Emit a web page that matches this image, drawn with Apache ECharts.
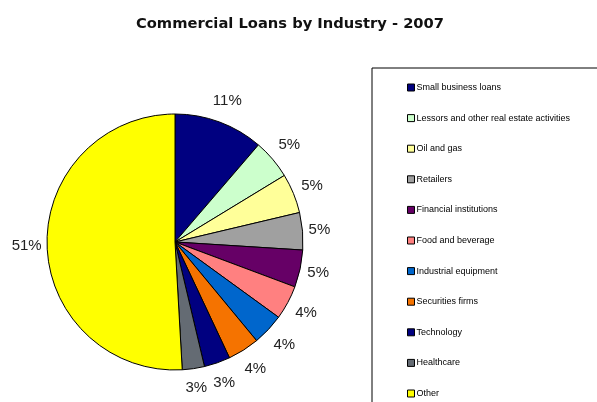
<!DOCTYPE html>
<html>
<head>
<meta charset="utf-8">
<script src="https://cdn.jsdelivr.net/npm/echarts@6/dist/echarts.min.js"></script>
<style>
  html, body { margin: 0; padding: 0; background: #fff; }
  #chart { width: 597px; height: 402px; }
</style>
</head>
<body>
<div id="chart"></div>
<script>
// Industry categories, drawn clockwise from 12 o'clock
const industries = [
  'Small business loans',
  'Lessors and other real estate activities',
  'Oil and gas',
  'Retailers',
  'Financial institutions',
  'Food and beverage',
  'Industrial equipment',
  'Securities firms',
  'Technology',
  'Healthcare',
  'Other'
];

// Share of commercial loans (%)
const loanShares = [11.3, 5.0, 5.0, 4.7, 4.7, 4.3, 4.0, 4.0, 3.3, 2.8, 50.9];

const sliceColors = [
  '#000080', '#CCFFCC', '#FFFF99', '#A0A0A0', '#660066', '#FF8080',
  '#0066CC', '#F57300', '#000080', '#646B73', '#FFFF00'
];

const chart = echarts.init(document.getElementById('chart'), null, { renderer: 'canvas' });

const pieData = industries.map((name, i) => ({
  name: name,
  value: loanShares[i],
  itemStyle: { color: sliceColors[i] }
}));

// Place each percentage label just outside its slice, centred on the
// slice's bisector; the clearance grows toward the top and bottom.
function placeLabel(params) {
  const series = chart.getModel().getSeriesByIndex(0);
  const layout = series.getData().getItemLayout(params.dataIndex);
  if (!layout) return {};
  const mid = (layout.startAngle + layout.endAngle) / 2;
  const ux = Math.cos(mid);
  const uy = Math.sin(mid);
  const w = params.labelRect.width;
  const h = params.labelRect.height * 0.7;
  const gap = 5 + 8 * Math.abs(uy);
  const d = layout.r + gap + Math.abs(ux) * w / 2 + Math.abs(uy) * h / 2;
  return {
    x: layout.cx + ux * d,
    y: layout.cy + uy * d,
    align: 'center',
    verticalAlign: 'middle'
  };
}

chart.setOption({
  animation: false,
  backgroundColor: '#ffffff',
  title: {
    text: 'Commercial Loans by Industry - 2007',
    left: 285,
    top: 12,
    textAlign: 'center',
    textStyle: {
      fontFamily: 'DejaVu Sans',
      fontWeight: 'bold',
      fontSize: 14.7,
      color: '#111'
    }
  },
  legend: {
    orient: 'vertical',
    left: 372,
    top: 68,
    height: 380,
    padding: [14, 40, 30, 35],
    borderColor: '#000',
    borderWidth: 1,
    icon: 'rect',
    itemWidth: 7,
    itemHeight: 7,
    itemGap: 19.6,
    itemStyle: { borderColor: '#000', borderWidth: 1 },
    textStyle: {
      fontFamily: 'Liberation Sans',
      fontSize: 9,
      lineHeight: 11,
      color: '#000',
      padding: [0, 0, 0, -3]
    },
    data: industries
  },
  series: [{
    type: 'pie',
    center: [175, 242],
    radius: 128,
    startAngle: 90,
    clockwise: true,
    avoidLabelOverlap: false,
    percentPrecision: 0,
    itemStyle: { borderColor: '#000', borderWidth: 1 },
    label: {
      show: true,
      position: 'outside',
      formatter: '{d}%',
      fontFamily: 'Liberation Sans',
      fontSize: 15,
      color: '#222'
    },
    labelLine: { show: false, length: 3, length2: 0 },
    labelLayout: placeLabel,
    emphasis: { disabled: true },
    data: pieData
  }]
});
</script>
</body>
</html>
